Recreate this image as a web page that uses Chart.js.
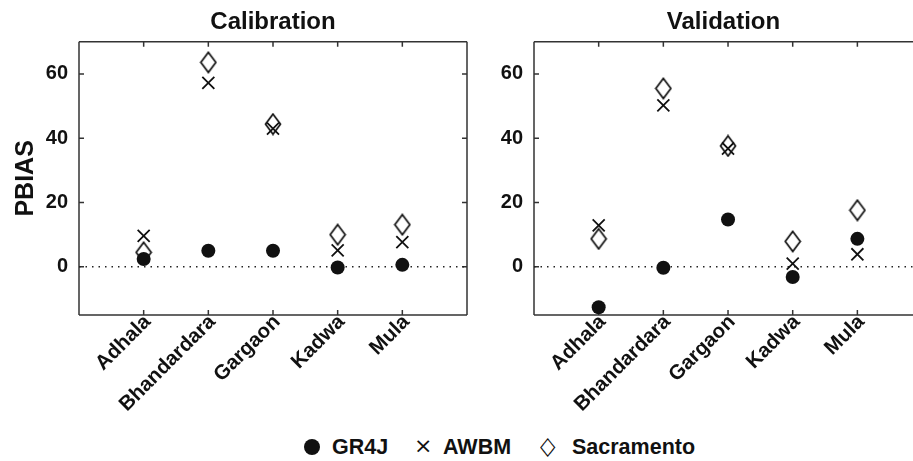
<!DOCTYPE html>
<html>
<head>
<meta charset="utf-8">
<script src="https://cdn.jsdelivr.net/npm/chart.js@4.4.1/dist/chart.umd.min.js"></script>
<style>
  html, body { margin: 0; padding: 0; background: #fff; overflow: hidden; width: 913px; height: 461px; }
  #wrap { position: relative; width: 913px; height: 461px; overflow: hidden; }
  canvas { position: absolute; top: 0; }
  #leftChart { left: 0; }
  #rightChart { left: 480px; }
  .lg { position: absolute; top: 433px; font: bold 21.5px "Liberation Sans", Arial, sans-serif; color: #111; line-height: 28px; }
  .sym { position: absolute; top: 433px; line-height: 28px; color: #111; }
</style>
</head>
<body>
<div id="wrap">
  <canvas id="leftChart" width="470" height="430"></canvas>
  <canvas id="rightChart" width="433" height="430"></canvas>
  <span class="sym" style="left:304px;top:439px;width:16px;height:16px;border-radius:50%;background:#111;"></span>
  <span class="lg" style="left:332px">GR4J</span>
  <span class="sym" style="left:414px;font:22px 'DejaVu Sans';">×</span>
  <span class="lg" style="left:443px">AWBM</span>
  <span class="sym" style="left:540px;font:20px 'DejaVu Sans';transform:scaleY(1.25);">◇</span>
  <span class="lg" style="left:572px">Sacramento</span>
</div>
<script>
// catchments on the x axis
const catchments = ['Adhala', 'Bhandardara', 'Gargaon', 'Kadwa', 'Mula'];
const yTicks = [0, 20, 40, 60];

// PBIAS, calibration period
const calGR4J = [2.4, 5.0, 5.0, -0.2, 0.6];
const calAWBM = [9.6, 57.2, 43.0, 5.1, 7.7];
const calSac = [4.5, 63.6, 44.4, 10.0, 13.1];

// PBIAS, validation period
const valGR4J = [-12.6, -0.3, 14.7, -3.2, 8.7];
const valAWBM = [12.9, 50.2, 36.8, 1.0, 3.9];
const valSac = [8.7, 55.5, 37.6, 7.9, 17.6];

const zeroLine = [0, 0];

// the validation panel is cut by the right edge of the figure
const calXMax = 6;
const valXMax = 5.86;

// hollow diamond marker (taller than wide)
function diamond() {
    const c = document.createElement('canvas');
    c.width = 18; c.height = 23;
    const g = c.getContext('2d');
    g.strokeStyle = '#111';
    g.lineWidth = 1.7;
    g.beginPath();
    g.moveTo(9, 1.5); g.lineTo(16.5, 11.5); g.lineTo(9, 21.5); g.lineTo(1.5, 11.5);
    g.closePath();
    g.stroke();
    return c;
}
const diamondImg = diamond();

const toPts = arr => arr.map((v, i) => ({ x: i + 1, y: v }));

const framePlugin = {
    id: 'frame',
    beforeDatasetsDraw(chart) {
        const { ctx, chartArea: a, scales: { x, y } } = chart;
        const open = chart.options.openRight;
        ctx.save();
        ctx.strokeStyle = '#333';
        ctx.lineWidth = 1.5;
        ctx.beginPath();
        ctx.moveTo(a.left, a.top); ctx.lineTo(a.left, a.bottom);
        ctx.moveTo(a.left, a.top); ctx.lineTo(a.right, a.top);
        ctx.moveTo(a.left, a.bottom); ctx.lineTo(a.right, a.bottom);
        if (!open) {
            ctx.moveTo(a.right, a.top); ctx.lineTo(a.right, a.bottom);
        }
        x.ticks.forEach(t => {
            const px = x.getPixelForValue(t.value);
            ctx.moveTo(px, a.bottom); ctx.lineTo(px, a.bottom - 5);
            ctx.moveTo(px, a.top); ctx.lineTo(px, a.top + 5);
        });
        y.ticks.forEach(t => {
            const py = y.getPixelForValue(t.value);
            ctx.moveTo(a.left, py); ctx.lineTo(a.left + 5, py);
            if (!open) { ctx.moveTo(a.right, py); ctx.lineTo(a.right - 5, py); }
        });
        ctx.stroke();
        ctx.restore();
    }
};

function makeChart(id, title, gr4j, awbm, sac, axisWidth, showTitle, xMax, padRight, open) {
    return new Chart(document.getElementById(id), {
        type: 'scatter',
        data: {
            datasets: [{
                label: 'GR4J',
                data: toPts(gr4j),
                pointStyle: 'circle',
                pointRadius: 7,
                backgroundColor: '#111',
                borderColor: '#111',
                borderWidth: 0
            }, {
                label: 'AWBM',
                data: toPts(awbm),
                pointStyle: 'crossRot',
                pointRadius: 8.5,
                borderColor: '#111',
                borderWidth: 1.8
            }, {
                label: 'Sacramento',
                data: toPts(sac),
                pointStyle: diamondImg,
                pointRadius: 9
            }, {
                label: 'zero',
                type: 'line',
                data: [{ x: 0, y: zeroLine[0] }, { x: xMax, y: zeroLine[1] }],
                borderColor: '#222',
                borderWidth: 1.5,
                borderDash: [1.5, 5],
                pointRadius: 0
            }]
        },
        options: {
            responsive: false,
            animation: false,
            openRight: open,
            layout: {
                autoPadding: false,
                padding: { left: 0, right: padRight, top: 0, bottom: 0 }
            },
            plugins: {
                legend: { display: false },
                tooltip: { enabled: false },
                title: {
                    display: true,
                    text: title,
                    fullSize: false,
                    color: '#111',
                    font: { family: 'Liberation Sans', size: 24, weight: 'bold' },
                    padding: { top: 8, bottom: 5 }
                }
            },
            scales: {
                x: {
                    type: 'linear',
                    min: 0,
                    max: xMax,
                    grid: { display: false, drawTicks: false },
                    border: { display: false },
                    afterBuildTicks: s => { s.ticks = catchments.map((c, i) => ({ value: i + 1 })); },
                    afterFit: s => { s.height = 430 - 315; s.paddingLeft = 0; s.paddingRight = 0; },
                    ticks: {
                        autoSkip: false,
                        minRotation: 45,
                        maxRotation: 45,
                        padding: -5,
                        labelOffset: 4,
                        color: '#111',
                        font: { family: 'Liberation Sans', size: 20.5, weight: 'bold' },
                        callback: v => catchments[v - 1]
                    }
                },
                y: {
                    min: -15,
                    max: 70,
                    grid: { display: false, drawTicks: false },
                    border: { display: false },
                    afterBuildTicks: s => { s.ticks = yTicks.map(v => ({ value: v })); },
                    afterFit: s => { s.width = axisWidth; },
                    ticks: {
                        padding: 11,
                        color: '#111',
                        font: { family: 'Liberation Sans', size: 20, weight: 'bold' }
                    },
                    title: {
                        display: showTitle,
                        text: 'PBIAS',
                        color: '#111',
                        padding: { top: 11, bottom: 0 },
                        font: { family: 'Liberation Sans', size: 25, weight: 'bold' }
                    }
                }
            }
        },
        plugins: [framePlugin]
    });
}

makeChart('leftChart', 'Calibration', calGR4J, calAWBM, calSac, 79, true, calXMax, 3, false);
makeChart('rightChart', 'Validation', valGR4J, valAWBM, valSac, 54, false, valXMax, 0, true);
</script>
</body>
</html>
